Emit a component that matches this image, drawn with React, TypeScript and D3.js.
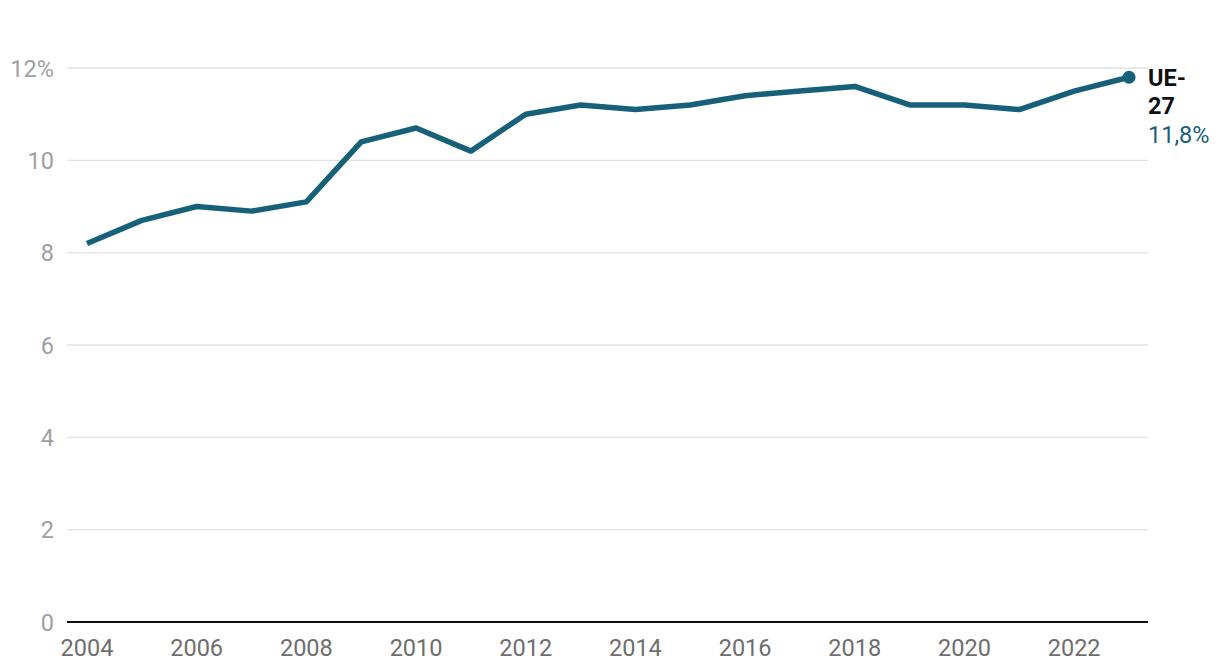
import React, { useEffect, useRef } from 'react';
import * as d3 from 'd3';

const years = [2004, 2005, 2006, 2007, 2008, 2009, 2010, 2011, 2012, 2013, 2014, 2015, 2016, 2017, 2018, 2019, 2020, 2021, 2022, 2023];
const values = [8.2, 8.7, 9.0, 8.9, 9.1, 10.4, 10.7, 10.2, 11.0, 11.2, 11.1, 11.2, 11.4, 11.5, 11.6, 11.2, 11.2, 11.1, 11.5, 11.8];
const yTicks = [0, 2, 4, 6, 8, 10, 12];
const xTicks = [2004, 2006, 2008, 2010, 2012, 2014, 2016, 2018, 2020, 2022];
const seriesName = ['UE-', '27'];

const App = () => {
  const ref = useRef<SVGSVGElement>(null);

  useEffect(() => {
    const svg = d3.select(ref.current);
    svg.selectAll('*').remove();

    const font = 'Roboto, sans-serif';
    const fs = 23.5;
    const color = '#17607a';

    // scales
    const x = d3.scaleLinear().domain([2004, 2023]).range([87, 1129]);
    const y = d3.scaleLinear().domain([0, 12]).range([622, 68]);

    // gridlines + y labels
    const grid = svg.append('g');
    yTicks.forEach((t) => {
      grid.append('line')
        .attr('x1', 67).attr('x2', 1148)
        .attr('y1', y(t)).attr('y2', y(t))
        .attr('stroke', t === 0 ? '#111' : '#e2e2e2')
        .attr('stroke-width', t === 0 ? 2 : 1.3);
      grid.append('text')
        .text(t === 12 ? '12%' : String(t))
        .attr('x', 54).attr('y', y(t) + 8.5)
        .attr('text-anchor', 'end')
        .attr('font-family', font).attr('font-size', fs)
        .attr('fill', '#a0a0a0');
    });

    // x labels
    xTicks.forEach((t) => {
      svg.append('text')
        .text(String(t))
        .attr('x', x(t)).attr('y', 656)
        .attr('text-anchor', 'middle')
        .attr('font-family', font).attr('font-size', fs)
        .attr('fill', '#6e6e6e');
    });

    // line
    const line = d3.line<number>()
      .x((d, i) => x(years[i]))
      .y((d) => y(d));
    svg.append('path')
      .datum(values)
      .attr('d', line)
      .attr('fill', 'none')
      .attr('stroke', color)
      .attr('stroke-width', 5.5)
      .attr('stroke-linejoin', 'round');

    // end point + label
    const last = values.length - 1;
    svg.append('circle')
      .attr('cx', x(years[last])).attr('cy', y(values[last]))
      .attr('r', 6.5).attr('fill', color);

    const lx = 1148;
    const by = 86;
    seriesName.forEach((s, i) => {
      svg.append('text')
        .text(s)
        .attr('x', lx).attr('y', by + i * 28)
        .attr('font-family', font).attr('font-size', fs)
        .attr('font-weight', 'bold').attr('fill', '#111');
    });
    svg.append('text')
      .text('11,8%')
      .attr('x', lx).attr('y', by + 2 * 28.5)
      .attr('font-family', font).attr('font-size', fs)
      .attr('fill', color);
  }, []);

  return (
    <svg ref={ref} width={1220} height={672} style={{ position: 'absolute', left: 0, top: 0 }} />
  );
};

export default App;
